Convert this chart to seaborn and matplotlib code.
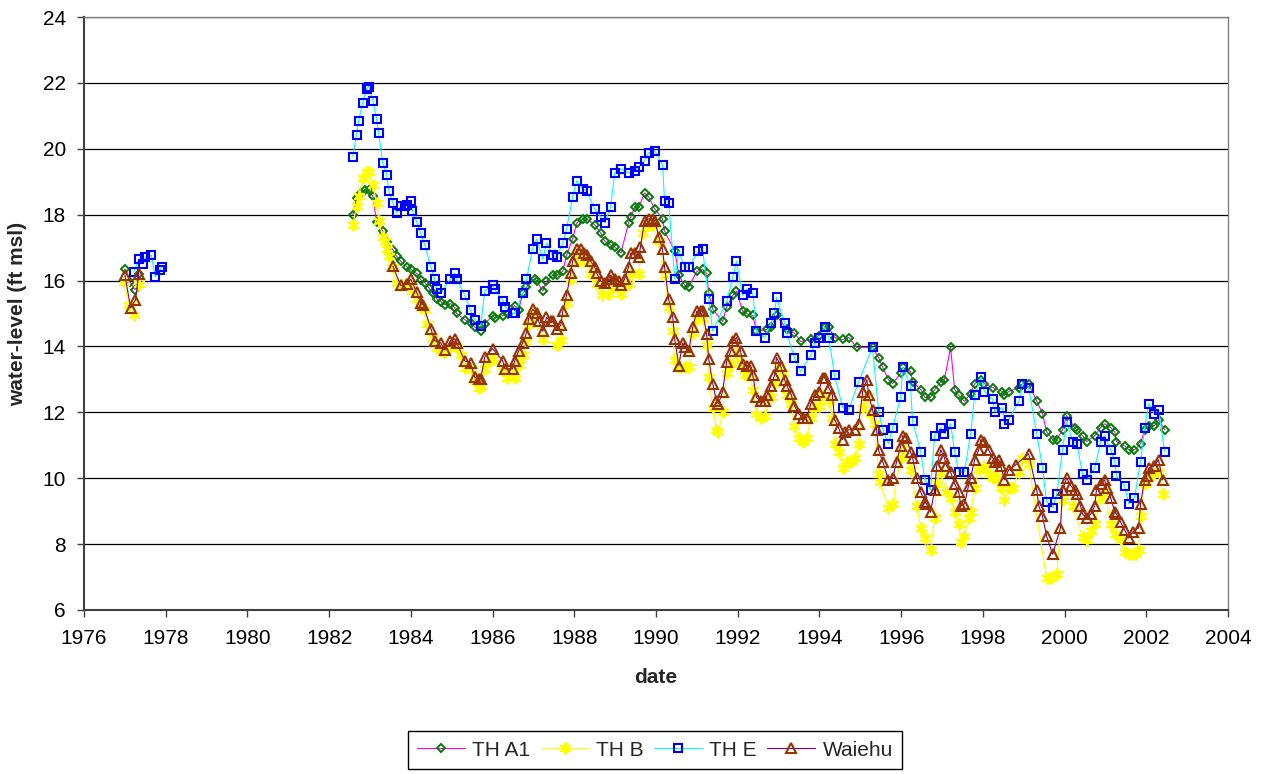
import numpy as np
import pandas as pd
import matplotlib
matplotlib.use("Agg")
import matplotlib.pyplot as plt
from matplotlib.lines import Line2D
import seaborn as sns


# Water levels (decimal year, ft msl)

tha1_date = [1977.00, 1977.13, 1977.25, 1977.34,
             1982.58, 1982.67, 1982.77, 1982.87, 1982.97, 1983.07, 1983.16, 1983.31, 1983.41, 1983.56,
             1983.65, 1983.75, 1983.90, 1984.00, 1984.14, 1984.24, 1984.34, 1984.44, 1984.53, 1984.63,
             1984.73, 1984.83, 1984.97, 1985.07, 1985.12, 1985.32, 1985.46, 1985.56, 1985.71, 1985.81,
             1986.00, 1986.05, 1986.25, 1986.39, 1986.54, 1986.64, 1986.74, 1986.83, 1987.03, 1987.08,
             1987.23, 1987.32, 1987.47, 1987.57, 1987.72, 1987.81, 1987.96, 1988.06, 1988.21, 1988.30,
             1988.50, 1988.65, 1988.74, 1988.89, 1988.99, 1989.14, 1989.33, 1989.38, 1989.48, 1989.58,
             1989.72, 1989.82, 1989.97, 1990.16, 1990.21, 1990.46, 1990.56, 1990.70, 1990.80, 1991.00,
             1991.14, 1991.24, 1991.29, 1991.39, 1991.63, 1991.73, 1991.88, 1991.97, 1992.12, 1992.22,
             1992.37, 1992.46, 1992.71, 1992.81, 1992.95, 1993.20, 1993.39, 1993.54, 1993.79, 1993.98,
             1994.13, 1994.23, 1994.37, 1994.57, 1994.72, 1994.91, 1995.30, 1995.45, 1995.55, 1995.69,
             1995.79, 1995.99, 1996.04, 1996.23, 1996.28, 1996.48, 1996.58, 1996.72, 1996.82, 1996.97,
             1997.06, 1997.21, 1997.31, 1997.41, 1997.55, 1997.70, 1997.80, 1997.95, 1998.04, 1998.24,
             1998.48, 1998.53, 1998.63, 1998.88, 1998.97, 1999.12, 1999.32, 1999.46, 1999.56, 1999.71,
             1999.81, 1999.95, 2000.05, 2000.25, 2000.30, 2000.44, 2000.54, 2000.74, 2000.88, 2000.98,
             2001.13, 2001.23, 2001.27, 2001.47, 2001.57, 2001.71, 2001.86, 2001.96, 2002.06, 2002.20,
             2002.30, 2002.45]
tha1_level = [16.35, 15.95, 15.72, 16.20,
              17.99, 18.50, 18.66, 18.74, 18.74, 18.56, 17.79, 17.50, 17.18, 16.93,
              16.73, 16.59, 16.42, 16.34, 16.22, 16.02, 15.94, 15.78, 15.61, 15.45,
              15.36, 15.27, 15.30, 15.18, 15.00, 14.81, 14.71, 14.59, 14.47, 14.69,
              14.93, 14.87, 14.93, 14.99, 15.24, 15.12, 15.61, 15.80, 16.04, 16.00,
              15.68, 15.98, 16.16, 16.16, 16.28, 16.77, 17.26, 17.75, 17.87, 17.87,
              17.69, 17.44, 17.20, 17.08, 17.02, 16.83, 17.75, 17.93, 18.23, 18.23,
              18.66, 18.54, 18.17, 17.87, 17.50, 16.89, 16.16, 15.86, 15.80, 16.28,
              16.34, 16.22, 15.61, 15.13, 14.76, 15.19, 15.55, 15.68, 15.07, 15.00,
              14.94, 14.46, 14.52, 14.58, 14.94, 14.52, 14.40, 14.15, 14.21, 14.33,
              14.58, 14.58, 14.27, 14.21, 14.27, 13.97, 13.97, 13.66, 13.36, 12.99,
              12.87, 13.18, 13.36, 13.24, 12.93, 12.69, 12.45, 12.45, 12.69, 12.93,
              12.99, 13.97, 12.69, 12.51, 12.33, 12.57, 12.87, 12.99, 12.87, 12.75,
              12.63, 12.51, 12.63, 12.75, 12.87, 12.87, 12.33, 11.96, 11.41, 11.17,
              11.17, 11.47, 11.90, 11.53, 11.47, 11.29, 11.11, 11.29, 11.53, 11.65,
              11.53, 11.41, 11.11, 10.98, 10.86, 10.86, 11.04, 11.47, 11.59, 11.59,
              11.78, 11.47]

thb_date = [1976.98, 1977.10, 1977.22, 1977.35,
            1982.58, 1982.67, 1982.72, 1982.82, 1982.92, 1982.97, 1983.07, 1983.16, 1983.21, 1983.31,
            1983.36, 1983.41, 1983.46, 1983.56, 1983.65, 1983.75, 1983.90, 1984.00, 1984.04, 1984.14,
            1984.24, 1984.34, 1984.39, 1984.55, 1984.63, 1984.73, 1984.83, 1984.97, 1985.12, 1985.22,
            1985.32, 1985.46, 1985.56, 1985.66, 1985.71, 1985.81, 1985.90, 1986.00, 1986.25, 1986.35,
            1986.49, 1986.54, 1986.64, 1986.74, 1986.83, 1986.88, 1986.98, 1987.23, 1987.57, 1987.67,
            1987.81, 1987.91, 1988.06, 1988.16, 1988.30, 1988.40, 1988.55, 1988.69, 1988.84, 1988.99,
            1989.14, 1989.33, 1989.38, 1989.58, 1989.67, 1989.82, 1989.92, 1990.07, 1990.21, 1990.31,
            1990.41, 1990.46, 1990.56, 1990.70, 1990.80, 1990.90, 1991.00, 1991.14, 1991.24, 1991.29,
            1991.39, 1991.48, 1991.53, 1991.63, 1991.73, 1991.83, 1991.97, 1992.07, 1992.17, 1992.27,
            1992.37, 1992.46, 1992.56, 1992.66, 1992.81, 1992.90, 1993.00, 1993.10, 1993.20, 1993.30,
            1993.39, 1993.49, 1993.59, 1993.69, 1993.79, 1993.88, 1993.98, 1994.08, 1994.23, 1994.32,
            1994.37, 1994.47, 1994.57, 1994.67, 1994.77, 1994.86, 1994.96, 1995.06, 1995.16, 1995.26,
            1995.35, 1995.45, 1995.48, 1995.69, 1995.79, 1995.99, 1996.04, 1996.23, 1996.38, 1996.48,
            1996.58, 1996.72, 1996.82, 1996.87, 1996.97, 1997.11, 1997.21, 1997.31, 1997.41, 1997.46,
            1997.55, 1997.65, 1997.70, 1997.80, 1997.90, 1998.04, 1998.14, 1998.24, 1998.34, 1998.44,
            1998.53, 1998.63, 1998.73, 1998.88, 1998.97, 1999.12, 1999.56, 1999.66, 1999.81, 1999.95,
            2000.20, 2000.44, 2000.54, 2000.64, 2000.74, 2000.88, 2000.98, 2001.13, 2001.23, 2001.37,
            2001.47, 2001.57, 2001.67, 2001.76, 2001.81, 2001.86, 2001.96, 2002.06, 2002.20, 2002.30,
            2002.40]
thb_level = [15.95, 15.25, 14.95, 15.90,
             17.70, 18.25, 18.56, 19.11, 19.31, 19.31, 18.90, 18.36, 17.81, 17.32,
             17.20, 16.95, 16.73, 16.42, 15.94, 15.86, 15.90, 15.82, 15.69, 15.45,
             15.21, 15.10, 14.67, 14.26, 13.96, 13.86, 13.82, 13.96, 13.96, 13.73,
             13.35, 13.32, 12.94, 12.74, 12.80, 13.32, 13.53, 13.63, 13.24, 13.04,
             13.14, 13.04, 13.45, 13.75, 14.14, 14.67, 15.00, 14.21, 14.03, 14.20,
             15.31, 16.04, 16.80, 16.60, 16.60, 16.20, 15.90, 15.55, 15.60, 15.80,
             15.60, 15.90, 16.22, 16.20, 17.44, 17.70, 17.70, 17.20, 16.16, 15.19,
             14.46, 13.60, 13.36, 13.36, 13.36, 14.40, 14.82, 14.82, 14.03, 13.06,
             12.14, 11.47, 11.41, 12.02, 13.18, 13.48, 13.79, 13.50, 13.12, 13.15,
             12.69, 11.96, 11.84, 11.90, 12.45, 12.87, 13.36, 13.20, 12.51, 12.26,
             11.59, 11.23, 11.11, 11.23, 11.84, 12.14, 12.20, 12.51, 12.33, 11.84,
             11.04, 10.80, 10.31, 10.50, 10.50, 10.60, 11.04, 12.14, 12.50, 11.96,
             11.65, 10.13, 9.89, 9.10, 9.22, 10.62, 10.92, 10.25, 9.16, 8.49,
             8.18, 7.82, 8.79, 9.83, 10.19, 9.58, 9.40, 8.97, 8.61, 8.06,
             8.24, 8.79, 8.97, 9.70, 10.25, 10.37, 10.13, 10.01, 10.05, 9.70,
             9.34, 9.70, 9.70, 10.19, 10.62, 10.44, 6.96, 6.96, 7.08, 9.34,
             9.16, 8.20, 8.12, 8.40, 8.61, 9.40, 9.60, 8.61, 8.31, 8.14,
             7.76, 7.70, 7.69, 7.70, 7.82, 8.85, 9.83, 10.05, 10.13, 10.20,
             9.52]

the_date = [1977.22, 1977.34, 1977.45, 1977.50, 1977.65, 1977.74, 1977.86, 1977.91,
            1982.58, 1982.67, 1982.72, 1982.82, 1982.92, 1982.97, 1983.07, 1983.16, 1983.21, 1983.31,
            1983.41, 1983.46, 1983.56, 1983.65, 1983.75, 1983.85, 1983.90, 1984.00, 1984.04, 1984.14,
            1984.24, 1984.34, 1984.49, 1984.58, 1984.63, 1984.73, 1984.97, 1985.07, 1985.12, 1985.32,
            1985.46, 1985.56, 1985.71, 1985.81, 1986.00, 1986.05, 1986.25, 1986.30, 1986.49, 1986.54,
            1986.74, 1986.83, 1986.98, 1987.08, 1987.23, 1987.32, 1987.47, 1987.57, 1987.72, 1987.81,
            1987.96, 1988.06, 1988.21, 1988.30, 1988.50, 1988.65, 1988.74, 1988.89, 1988.99, 1989.14,
            1989.33, 1989.48, 1989.58, 1989.72, 1989.82, 1989.97, 1990.16, 1990.21, 1990.31, 1990.46,
            1990.56, 1990.70, 1990.80, 1991.04, 1991.14, 1991.29, 1991.39, 1991.73, 1991.88, 1991.97,
            1992.12, 1992.22, 1992.37, 1992.46, 1992.66, 1992.81, 1992.90, 1992.95, 1993.15, 1993.20,
            1993.39, 1993.54, 1993.79, 1993.88, 1993.98, 1994.13, 1994.23, 1994.37, 1994.57, 1994.72,
            1994.96, 1995.30, 1995.45, 1995.55, 1995.69, 1995.79, 1995.99, 1996.04, 1996.23, 1996.28,
            1996.48, 1996.58, 1996.72, 1996.82, 1996.97, 1997.06, 1997.21, 1997.31, 1997.41, 1997.55,
            1997.70, 1997.80, 1997.95, 1998.04, 1998.24, 1998.29, 1998.48, 1998.53, 1998.63, 1998.88,
            1998.97, 1999.12, 1999.32, 1999.46, 1999.56, 1999.71, 1999.81, 1999.95, 2000.05, 2000.20,
            2000.30, 2000.44, 2000.54, 2000.74, 2000.88, 2000.98, 2001.13, 2001.23, 2001.27, 2001.47,
            2001.57, 2001.71, 2001.86, 2001.96, 2002.06, 2002.20, 2002.30, 2002.45]
the_level = [16.27, 16.64, 16.51, 16.71, 16.76, 16.11, 16.31, 16.41,
             19.76, 20.43, 20.85, 21.40, 21.83, 21.89, 21.46, 20.91, 20.49, 19.57,
             19.21, 18.72, 18.36, 18.05, 18.25, 18.25, 18.28, 18.42, 18.11, 17.79,
             17.44, 17.08, 16.41, 16.06, 15.74, 15.61, 16.06, 16.22, 16.06, 15.55,
             15.10, 14.81, 14.63, 15.69, 15.86, 15.74, 15.39, 15.21, 15.00, 15.00,
             15.61, 16.04, 16.97, 17.26, 16.65, 17.14, 16.77, 16.71, 17.14, 17.56,
             18.54, 19.03, 18.78, 18.72, 18.17, 17.93, 17.75, 18.23, 19.27, 19.39,
             19.27, 19.33, 19.45, 19.64, 19.88, 19.94, 19.51, 18.42, 18.36, 16.04,
             16.89, 16.41, 16.41, 16.89, 16.95, 15.43, 14.46, 15.37, 16.10, 16.59,
             15.55, 15.74, 15.61, 14.46, 14.27, 14.70, 15.00, 15.49, 14.70, 14.40,
             13.66, 13.24, 13.73, 14.09, 14.27, 14.58, 14.27, 13.12, 12.14, 12.08,
             12.93, 13.97, 12.02, 11.47, 11.04, 11.53, 12.45, 13.36, 12.81, 11.73,
             10.80, 9.95, 9.64, 11.29, 11.53, 11.35, 11.65, 10.80, 10.19, 10.19,
             11.35, 12.51, 13.06, 12.63, 12.39, 12.02, 12.14, 11.65, 11.78, 12.33,
             12.87, 12.75, 11.35, 10.31, 9.28, 9.10, 9.52, 10.86, 11.71, 11.11,
             11.04, 10.13, 9.95, 10.31, 11.11, 11.29, 10.86, 10.50, 10.07, 9.77,
             9.22, 9.40, 10.50, 11.53, 12.26, 11.96, 12.08, 10.80]

waiehu_date = [1977.00, 1977.14, 1977.26, 1977.34,
               1983.56, 1983.75, 1983.90, 1984.00, 1984.14, 1984.24, 1984.30, 1984.49, 1984.58, 1984.73,
               1984.83, 1984.97, 1985.07, 1985.12, 1985.32, 1985.46, 1985.56, 1985.66, 1985.71, 1985.81,
               1986.00, 1986.25, 1986.30, 1986.49, 1986.54, 1986.64, 1986.74, 1986.83, 1986.88, 1986.98,
               1987.08, 1987.13, 1987.23, 1987.32, 1987.42, 1987.47, 1987.57, 1987.67, 1987.72, 1987.81,
               1987.91, 1987.96, 1988.06, 1988.16, 1988.25, 1988.30, 1988.40, 1988.50, 1988.55, 1988.65,
               1988.74, 1988.84, 1988.89, 1988.99, 1989.09, 1989.14, 1989.23, 1989.33, 1989.38, 1989.48,
               1989.58, 1989.62, 1989.72, 1989.82, 1989.92, 1989.97, 1990.07, 1990.16, 1990.21, 1990.31,
               1990.41, 1990.46, 1990.56, 1990.65, 1990.70, 1990.80, 1990.90, 1991.00, 1991.09, 1991.14,
               1991.24, 1991.29, 1991.39, 1991.48, 1991.53, 1991.63, 1991.73, 1991.83, 1991.88, 1991.97,
               1992.07, 1992.12, 1992.22, 1992.32, 1992.37, 1992.46, 1992.56, 1992.66, 1992.71, 1992.81,
               1992.90, 1992.95, 1993.05, 1993.15, 1993.20, 1993.30, 1993.39, 1993.49, 1993.59, 1993.69,
               1993.79, 1993.88, 1993.98, 1994.08, 1994.13, 1994.23, 1994.32, 1994.37, 1994.47, 1994.57,
               1994.62, 1994.72, 1994.86, 1994.96, 1995.06, 1995.16, 1995.21, 1995.30, 1995.40, 1995.45,
               1995.55, 1995.69, 1995.79, 1995.89, 1995.99, 1996.04, 1996.13, 1996.23, 1996.28, 1996.38,
               1996.48, 1996.58, 1996.62, 1996.72, 1996.82, 1996.87, 1996.97, 1997.06, 1997.11, 1997.21,
               1997.31, 1997.41, 1997.46, 1997.55, 1997.65, 1997.70, 1997.80, 1997.90, 1997.95, 1998.04,
               1998.14, 1998.24, 1998.29, 1998.39, 1998.44, 1998.53, 1998.63, 1998.80, 1999.12, 1999.32,
               1999.37, 1999.46, 1999.56, 1999.71, 1999.90, 1999.95, 2000.05, 2000.15, 2000.25, 2000.30,
               2000.39, 2000.44, 2000.54, 2000.64, 2000.74, 2000.78, 2000.88, 2000.98, 2001.03, 2001.13,
               2001.23, 2001.27, 2001.37, 2001.47, 2001.57, 2001.67, 2001.81, 2001.86, 2001.96, 2002.01,
               2002.06, 2002.20, 2002.30, 2002.40]
waiehu_level = [16.18, 15.17, 15.41, 16.20,
                16.44, 15.85, 15.90, 16.04, 15.65, 15.33, 15.27, 14.54, 14.17, 14.11,
                13.89, 14.17, 14.23, 14.11, 13.56, 13.50, 13.07, 13.01, 13.01, 13.68,
                13.93, 13.56, 13.32, 13.32, 13.56, 13.87, 14.11, 14.41, 14.84, 15.13,
                15.00, 14.76, 14.46, 14.88, 14.76, 14.76, 14.52, 14.64, 15.07, 15.55,
                16.22, 16.59, 16.95, 16.95, 16.83, 16.77, 16.59, 16.41, 16.22, 15.98,
                15.92, 16.04, 16.16, 16.04, 15.98, 15.86, 16.04, 16.41, 16.83, 16.83,
                16.71, 17.02, 17.81, 17.87, 17.87, 17.81, 17.32, 16.95, 16.41, 15.43,
                14.88, 14.21, 13.42, 14.09, 13.97, 13.85, 14.58, 15.07, 15.07, 15.07,
                14.37, 13.63, 12.87, 12.33, 12.26, 12.63, 13.54, 13.85, 14.15, 14.27,
                13.85, 13.48, 13.42, 13.42, 13.12, 12.45, 12.33, 12.33, 12.51, 12.81,
                13.12, 13.66, 13.42, 12.99, 12.81, 12.57, 12.20, 11.96, 11.84, 11.84,
                12.26, 12.51, 12.63, 13.05, 13.05, 12.75, 12.51, 11.78, 11.53, 11.17,
                11.41, 11.47, 11.47, 11.65, 12.63, 12.99, 12.51, 12.08, 11.47, 10.84,
                10.50, 9.95, 10.01, 10.50, 10.98, 11.29, 11.23, 10.80, 10.62, 10.01,
                9.58, 9.28, 9.22, 8.97, 9.64, 10.37, 10.86, 10.62, 10.37, 10.19,
                9.83, 9.58, 9.16, 9.22, 9.77, 10.01, 10.56, 10.86, 11.17, 11.11,
                10.86, 10.62, 10.50, 10.56, 10.37, 9.95, 10.25, 10.40, 10.74, 9.64,
                9.16, 8.85, 8.24, 7.69, 8.49, 9.64, 10.01, 9.77, 9.64, 9.52,
                9.16, 8.91, 8.79, 8.91, 9.16, 9.64, 9.83, 9.95, 9.70, 9.40,
                8.97, 8.91, 8.67, 8.43, 8.18, 8.37, 8.49, 9.22, 9.95, 10.07,
                10.31, 10.37, 10.56, 9.95]

wells = ["TH A1", "TH B", "TH E", "Waiehu"]
dates = [tha1_date, thb_date, the_date, waiehu_date]
levels = [tha1_level, thb_level, the_level, waiehu_level]

# one long table; a new "piece" starts wherever the record has a gap of years,
# so the line is broken there like in the original chart
frames = []
for name, d, v in zip(wells, dates, levels):
    part = pd.DataFrame({"date": d, "level": v})
    part["well"] = name
    part["piece"] = (part["date"].diff() > 2).cumsum()
    frames.append(part)
df = pd.concat(frames, ignore_index=True)

# line colour, marker, marker colour, marker size, edge width
styles = {
    "TH A1": ("#FF00FF", "D", "#008000", 4.5, 1.4),
    "TH B": ("#FFFF00", (6, 2, 0), "#FFFF00", 8.5, 1.5),
    "TH E": ("#00FFFF", "s", "#0000FF", 6.0, 1.5),
    "Waiehu": ("#800080", "^", "#993300", 6.5, 1.5),
}

sns.set_theme(style="white")
plt.rcParams["font.family"] = ["Liberation Sans", "DejaVu Sans"]

fig, ax = plt.subplots(figsize=(12.67, 7.74), dpi=100)
fig.subplots_adjust(left=0.0663, right=0.9692, top=0.978, bottom=0.212)

for name in wells:
    lc, mk, mc, ms, mw = styles[name]
    sns.lineplot(data=df[df["well"] == name], x="date", y="level", units="piece",
                 estimator=None, color=lc, lw=0.8, marker=mk, ms=ms, mfc="none",
                 mec=mc, mew=mw, ax=ax, legend=False)

ax.set_xlim(1976, 2004)
ax.set_ylim(6, 24)
ax.set_xticks(np.arange(1976, 2005, 2))
ax.set_yticks(np.arange(6, 25, 2))
ax.yaxis.grid(True, color="black", lw=0.9)
ax.xaxis.grid(False)
ax.set_axisbelow(True)

for side in ["top", "right"]:
    ax.spines[side].set_color("#808080")
    ax.spines[side].set_linewidth(1.0)
for side in ["left", "bottom"]:
    ax.spines[side].set_color("#404040")
    ax.spines[side].set_linewidth(1.5)

ax.tick_params(axis="both", direction="out", length=5, width=1, color="#404040",
               labelsize=15, labelcolor="black")
ax.tick_params(axis="x", pad=9)
ax.tick_params(axis="y", pad=8)
ax.tick_params(axis="both", bottom=True, left=True)

ax.set_xlabel("date", fontsize=15, fontweight="bold", labelpad=14)
ax.set_ylabel("water-level (ft msl)", fontsize=15, fontweight="bold", labelpad=11)

handles = []
for name in wells:
    lc, mk, mc, ms, mw = styles[name]
    handles.append(Line2D([], [], color=lc, lw=0.8, marker=mk, ms=ms, mfc="none",
                          mec=mc, mew=mw, label=name))
leg = fig.legend(handles=handles, loc="center", bbox_to_anchor=(655 / 1267, 1 - 750 / 774),
                 ncol=4, fontsize=15, frameon=True, fancybox=False, framealpha=1,
                 edgecolor="black", handlelength=2.3, handletextpad=0.35,
                 columnspacing=0.5, borderpad=0.45)
leg.get_frame().set_linewidth(1.0)

fig.savefig("out.png", dpi=100, facecolor="white")
